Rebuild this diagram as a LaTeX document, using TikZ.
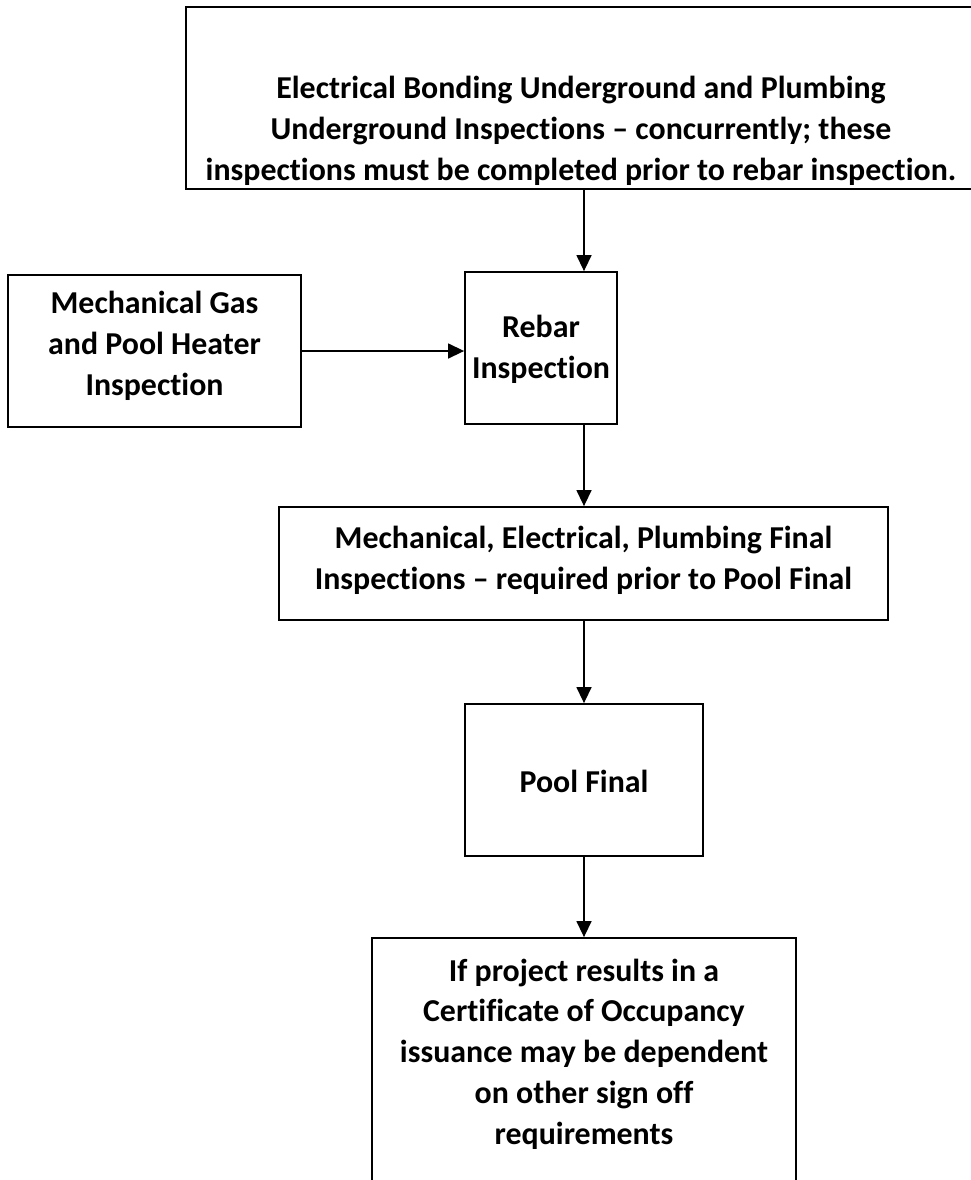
\documentclass[tikz,border=0pt]{standalone}
\usepackage{fontspec}
\setmainfont[Ligatures=NoCommon]{Carlito}
\usetikzlibrary{arrows.meta}
\begin{document}
\begin{tikzpicture}[x=1bp,y=-1bp,
  box/.style={draw=black, line width=1.8bp, rectangle, inner sep=0pt},
  lbl/.style={align=center, font=\fontsize{32}{41}\selectfont\bfseries, inner sep=0pt},
  arr/.style={line width=1.4bp, -{Triangle[length=16bp,width=15bp]}}]
\useasboundingbox (0,0) rectangle (971,1180);
\clip (0,0) rectangle (971,1180);
\coordinate (ax) at (584,0);
% boxes
\node[box, minimum width=830bp, minimum height=182bp] (b1) at (601,98) {};
\node[box, minimum width=152bp, minimum height=152bp] (rebar) at (541,348) {};
\node[box, minimum width=293bp, minimum height=152bp] (mech) at (154.5,351) {};
\node[box, minimum width=609bp, minimum height=113bp] (mep) at (583.5,563.5) {};
\node[box, minimum width=238bp, minimum height=152bp] (pool) at (584,780) {};
\node[box, minimum width=424bp, minimum height=302bp] (last) at (584,1089) {};
% texts
\node[lbl] (t1) at (581,131) {Electrical Bonding Underground and Plumbing\\Underground Inspections -- concurrently; these\\inspections must be completed prior to rebar inspection.};
\node[lbl] (trebar) at (541,349) {Rebar\\Inspection};
\node[lbl] (tmech) at (154.5,346) {Mechanical Gas\\and Pool Heater\\Inspection};
\node[lbl] (tmep) at (583.5,560) {Mechanical, Electrical, Plumbing Final\\Inspections -- required prior to Pool Final};
\node[lbl] (tpool) at (584,781) {Pool Final};
\node[lbl] (tlast) at (584,1054) {If project results in a\\Certificate of Occupancy\\issuance may be dependent\\on other sign off\\requirements};
% connectors
\draw[arr] (b1.south -| ax) -- (rebar.north -| ax);
\draw[arr] (mech.east) -- (mech.east -| rebar.west);
\draw[arr] (rebar.south -| ax) -- (mep.north -| ax);
\draw[arr] (mep.south -| ax) -- (pool.north -| ax);
\draw[arr] (pool.south -| ax) -- (last.north -| ax);
\end{tikzpicture}
\end{document}
